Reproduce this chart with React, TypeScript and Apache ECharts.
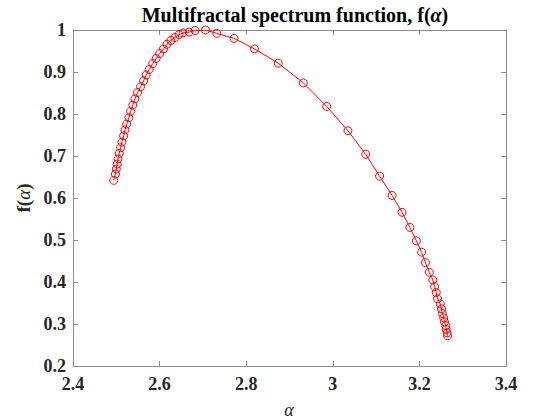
import React, { useEffect, useRef } from "react";
import * as echarts from "echarts";

// Singularity strength α and the multifractal spectrum f(α)
const alpha: number[] = [
  2.494, 2.498, 2.5, 2.502, 2.504, 2.507, 2.51, 2.513, 2.517, 2.52,
  2.524, 2.529, 2.533, 2.538, 2.543, 2.549, 2.556, 2.563, 2.569, 2.576,
  2.584, 2.592, 2.6, 2.609, 2.617, 2.626, 2.635, 2.645, 2.654, 2.668,
  2.682, 2.706, 2.732, 2.772, 2.819, 2.874, 2.932, 2.986, 3.035, 3.076,
  3.108, 3.137, 3.16, 3.178, 3.193, 3.205, 3.214, 3.223, 3.231, 3.235,
  3.239, 3.242, 3.248, 3.251, 3.253, 3.256, 3.258, 3.261, 3.262, 3.264,
  3.265,
];
const fAlpha: number[] = [
  0.642, 0.657, 0.669, 0.681, 0.693, 0.706, 0.72, 0.733, 0.748, 0.762,
  0.776, 0.791, 0.806, 0.821, 0.836, 0.851, 0.865, 0.879, 0.893, 0.906,
  0.92, 0.932, 0.944, 0.955, 0.966, 0.975, 0.982, 0.989, 0.993, 0.995,
  0.999, 1.0, 0.992, 0.98, 0.955, 0.921, 0.874, 0.818, 0.76, 0.704,
  0.652, 0.606, 0.566, 0.53, 0.498, 0.471, 0.446, 0.423, 0.405, 0.389,
  0.375, 0.36, 0.348, 0.336, 0.325, 0.315, 0.305, 0.296, 0.287, 0.279,
  0.272,
];

const xRange = { min: 2.4, max: 3.4, step: 0.2 };
const yRange = { min: 0.2, max: 1, step: 0.1 };

const FONT = "'Liberation Serif', 'Times New Roman', serif";
const AXIS_GRAY = "#8c8c8c";
const TEXT = "#262626";

export default function App() {
  const ref = useRef<HTMLDivElement>(null);

  useEffect(() => {
    if (!ref.current) return;
    const chart = echarts.init(ref.current, undefined, { renderer: "svg" });

    // plain box edge with inward ticks and no labels
    const boxAxis = (pos: string) => ({
      position: pos,
      axisLine: { show: true, lineStyle: { color: AXIS_GRAY, width: 1 } },
      axisTick: { show: true, inside: true, length: 5, lineStyle: { color: AXIS_GRAY } },
      splitLine: { show: false },
      axisLabel: { show: false },
    });

    const tickLabel = (margin: number) => ({
      show: true,
      color: TEXT,
      fontFamily: FONT,
      fontWeight: "bold",
      fontSize: 18,
      margin,
    });

    chart.setOption({
      animation: false,
      backgroundColor: "#ffffff",
      title: {
        text: "{b|Multifractal spectrum function, f(}{a|α}{b|)}",
        left: 290,
        textAlign: "center",
        top: 0,
        textStyle: {
          rich: {
            b: { fontFamily: FONT, fontWeight: "bold", fontSize: 20, color: "#000" },
            a: { fontFamily: FONT, fontStyle: "italic", fontSize: 20, color: "#000" },
          },
        },
      },
      grid: {
        left: 73,
        right: 54,
        top: 30,
        bottom: 54,
        containLabel: false,
        outerBoundsMode: "none",
      },
      // x-axis title, centred under the plot box
      graphic: [
        {
          type: "text",
          x: 289,
          y: 410,
          style: {
            text: "α",
            align: "center",
            verticalAlign: "middle",
            fontFamily: FONT,
            fontStyle: "italic",
            fontSize: 18,
            fill: TEXT,
          },
        },
      ],
      xAxis: [
        {
          type: "value",
          min: xRange.min,
          max: xRange.max,
          interval: xRange.step,
          ...boxAxis("bottom"),
          axisLabel: tickLabel(9),
        },
        {
          type: "value",
          min: xRange.min,
          max: xRange.max,
          interval: xRange.step,
          ...boxAxis("top"),
        },
      ],
      yAxis: [
        {
          type: "value",
          min: yRange.min,
          max: yRange.max,
          interval: yRange.step,
          ...boxAxis("left"),
          axisLabel: tickLabel(7),
          name: "{b|f(}{a|α}{b|)}",
          nameLocation: "middle",
          nameGap: 34,
          nameRotate: 90,
          nameTextStyle: {
            rich: {
              b: { fontFamily: FONT, fontWeight: "bold", fontSize: 19, color: TEXT },
              a: { fontFamily: FONT, fontStyle: "italic", fontSize: 19, color: TEXT },
            },
          },
        },
        {
          type: "value",
          min: yRange.min,
          max: yRange.max,
          interval: yRange.step,
          ...boxAxis("right"),
        },
      ],
      series: [
        {
          type: "line",
          data: alpha.map((a, i) => [a, fAlpha[i]]),
          symbol: "circle",
          symbolSize: 8,
          showAllSymbol: true,
          color: "#ff0000",
          lineStyle: { color: "#ff0000", width: 1 },
          itemStyle: { color: "rgba(255,255,255,0)", borderColor: "#ff0000", borderWidth: 1 },
        },
      ],
    });

    return () => chart.dispose();
  }, []);

  return (
    <div
      ref={ref}
      style={{ position: "absolute", left: 0, top: 0, width: 560, height: 420 }}
    />
  );
}
